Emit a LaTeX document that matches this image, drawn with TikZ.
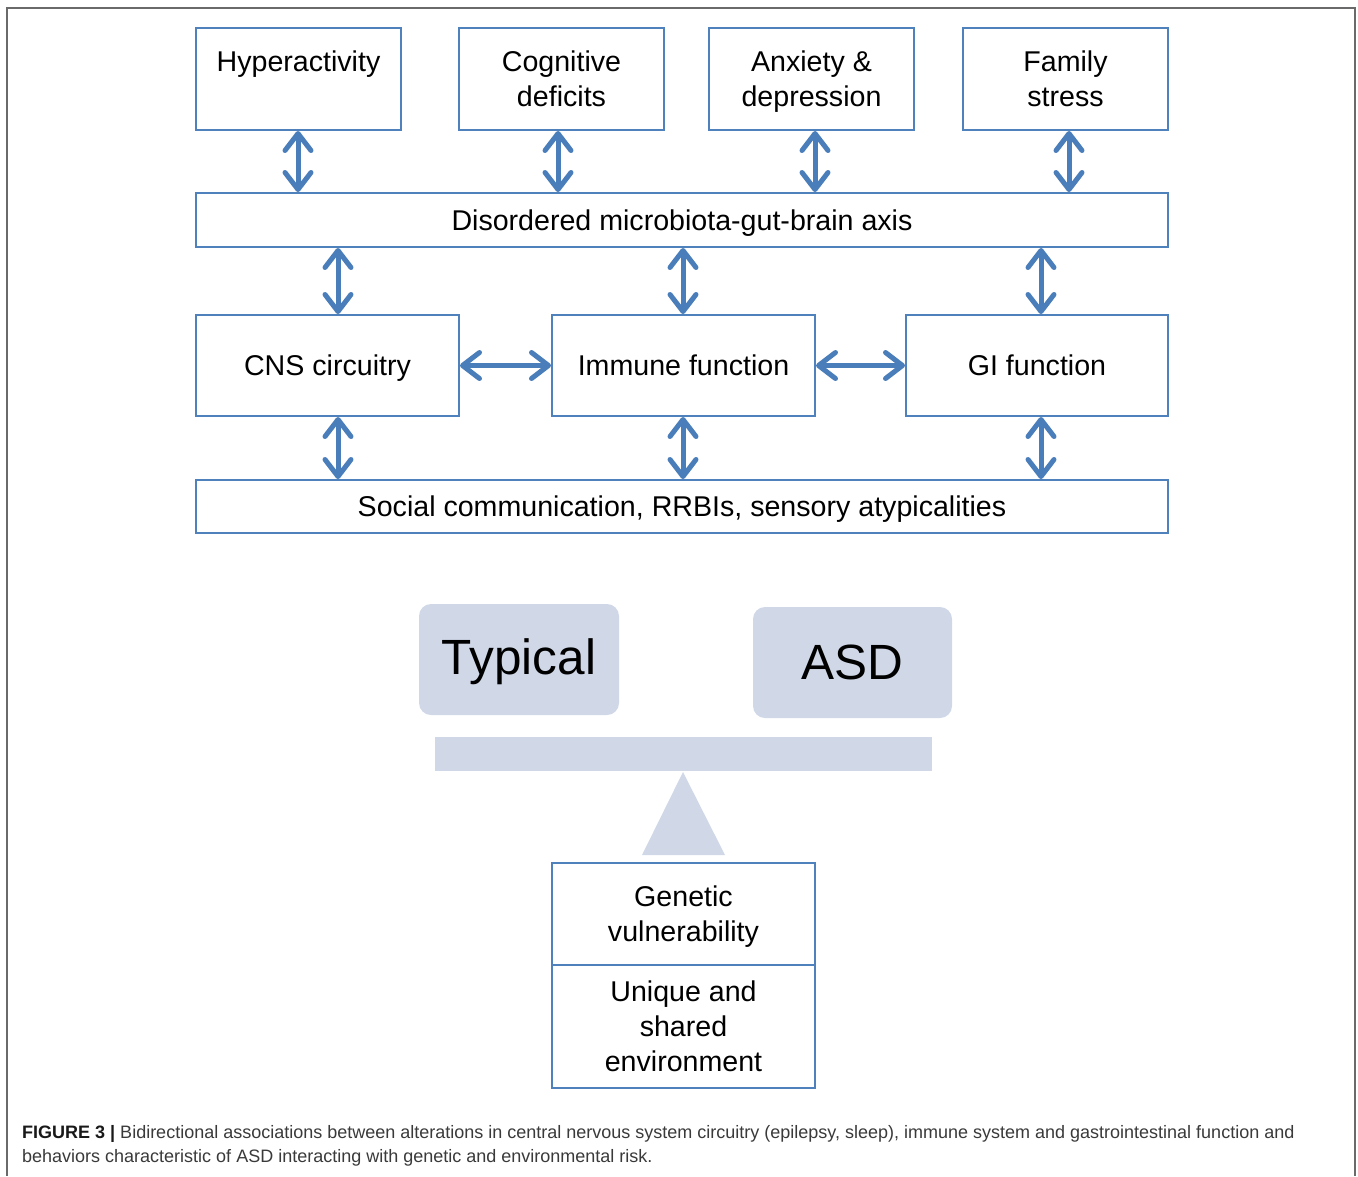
\documentclass[tikz,border=0pt]{standalone}
\usepackage{fontspec}
\setmainfont{Liberation Sans}
\usetikzlibrary{arrows.meta}
\definecolor{boxblue}{HTML}{4F81BD}
\definecolor{arrblue}{HTML}{4A7EBB}
\definecolor{scalefill}{HTML}{D0D8E8}
\definecolor{framegray}{HTML}{6A6A6A}
\definecolor{captext}{HTML}{3A3A3A}
\newcommand\lastdp{\rule[-7pt]{0pt}{7pt}}
\newcommand\firstht{\rule{0pt}{27pt}}
\begin{document}
\begin{tikzpicture}[x=1pt,y=-1pt,
  bx/.style={draw=boxblue, line width=2pt, fill=white, inner sep=0pt, align=center,
    font=\fontsize{28.6}{35}\selectfont},
  sc/.style={fill=scalefill, rounded corners=12pt, inner sep=0pt, font=\fontsize{49.5}{55}\selectfont},
  barrow/.style={draw=arrblue, line width=5pt,
    {Straight Barb[length=17pt,width=26pt,line cap=round,line join=round]}-{Straight Barb[length=17pt,width=26pt,line cap=round,line join=round]}},
  captxt/.style={anchor=base west, inner sep=0pt, font=\fontsize{18}{24}\selectfont, text=captext},
]
\useasboundingbox (0,0) rectangle (1358,1176);
\fill[white] (0,0) rectangle (1358,1176);
% frame
\coordinate (fbl) at (7,1176);
\coordinate (ftl) at (7,8);
\coordinate (ftr) at (1355,8);
\coordinate (fbr) at (1355,1176);
\draw[framegray, line width=2pt] (fbl) -- (ftl) -- (ftr) -- (fbr);

% top row
\node[bx, minimum width=205, minimum height=102] (hyp) at (298.5,79) {\firstht Hyperactivity\\\lastdp};
\node[bx, minimum width=205, minimum height=102] (cog) at (561.5,79) {\firstht Cognitive\\deficits\lastdp};
\node[bx, minimum width=205, minimum height=102] (anx) at (811.5,79) {\firstht Anxiety \&\\depression\lastdp};
\node[bx, minimum width=205, minimum height=102] (fam) at (1065.5,79) {\firstht Family\\stress\lastdp};

% axis
\node[bx, minimum width=972, minimum height=54] (axis) at (682,220) {\firstht Disordered microbiota-gut-brain axis\lastdp};

% middle row
\node[bx, minimum width=263, minimum height=101] (cns) at (327.5,365.5) {\firstht CNS circuitry\lastdp};
\node[bx, minimum width=263, minimum height=101] (imm) at (683.5,365.5) {\firstht Immune function\lastdp};
\node[bx, minimum width=262, minimum height=101] (gi) at (1037,365.5) {\firstht GI function\lastdp};

% bottom row
\node[bx, minimum width=972, minimum height=53] (soc) at (682,506.5) {\firstht Social communication, RRBIs, sensory atypicalities\lastdp};

% arrows top
\draw[barrow] (hyp.south -| 298,0) -- (axis.north -| 298,0);
\draw[barrow] (cog.south -| 558,0) -- (axis.north -| 558,0);
\draw[barrow] (anx.south -| 815,0) -- (axis.north -| 815,0);
\draw[barrow] (fam.south -| 1069,0) -- (axis.north -| 1069,0);
% axis to middle
\draw[barrow] (axis.south -| 338,0) -- (cns.north -| 338,0);
\draw[barrow] (axis.south -| 683,0) -- (imm.north -| 683,0);
\draw[barrow] (axis.south -| 1041,0) -- (gi.north -| 1041,0);
% horizontal
\draw[barrow] (cns.east) -- (imm.west);
\draw[barrow] (imm.east) -- (gi.west);
% middle to bottom
\draw[barrow] (cns.south -| 338,0) -- (soc.north -| 338,0);
\draw[barrow] (imm.south -| 683,0) -- (soc.north -| 683,0);
\draw[barrow] (gi.south -| 1041,0) -- (soc.north -| 1041,0);

% scale
\node[sc, minimum width=200, minimum height=111] (typ) at (519,659.5) {\rule{0pt}{40pt}Typical};
\node[sc, minimum width=199, minimum height=111] (asd) at (852.5,662.5) {ASD};
\node[fill=scalefill, inner sep=0pt, minimum width=497, minimum height=34] (beam) at (683.5,754) {};
\coordinate (tapex) at (683,772);
\coordinate (tl) at (642,855);
\coordinate (tr) at (725,855);
\fill[scalefill] (tapex) -- (tr) -- (tl) -- cycle;

% genetic / environment
\node[bx, minimum width=263, minimum height=102] (gen) at (683.5,914) {\firstht Genetic\\vulnerability\lastdp};
\node[bx, minimum width=263, minimum height=123] (env) at (683.5,1026.5) {\firstht Unique and\\shared\\environment\lastdp};

% caption
\node[captxt] (cap1) at (22,1138) {\textbf{\color{black!90}FIGURE 3 |} Bidirectional associations between alterations in central nervous system circuitry (epilepsy, sleep), immune system and gastrointestinal function and};
\node[captxt] (cap2) at (22,1162) {behaviors characteristic of ASD interacting with genetic and environmental risk.};
\end{tikzpicture}
\end{document}
